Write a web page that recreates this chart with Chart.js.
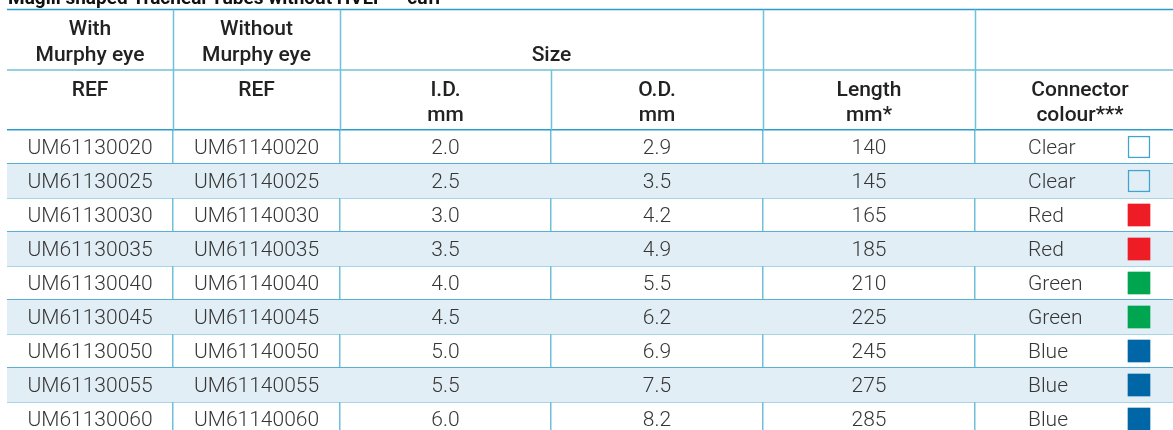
<!DOCTYPE html>
<html>
<head>
<meta charset="utf-8">
<script src="https://cdn.jsdelivr.net/npm/chart.js@4/dist/chart.umd.min.js"></script>
<style>
  html, body { margin: 0; padding: 0; background: #fff; overflow: hidden; }
  #tubes-chart { display: block; }
</style>
</head>
<body>
<canvas id="tubes-chart" width="1173" height="436"></canvas>
<script>
// table data
const tableTitle = 'Magill shaped Tracheal Tubes without HVLP** cuff';
const refWithEye = ['UM61130020', 'UM61130025', 'UM61130030', 'UM61130035', 'UM61130040',
                    'UM61130045', 'UM61130050', 'UM61130055', 'UM61130060'];
const refWithoutEye = ['UM61140020', 'UM61140025', 'UM61140030', 'UM61140035', 'UM61140040',
                       'UM61140045', 'UM61140050', 'UM61140055', 'UM61140060'];
const innerDiameter = [2.0, 2.5, 3.0, 3.5, 4.0, 4.5, 5.0, 5.5, 6.0];
const outerDiameter = [2.9, 3.5, 4.2, 4.9, 5.5, 6.2, 6.9, 7.5, 8.2];
const tubeLength = [140, 145, 165, 185, 210, 225, 245, 275, 285];
const connectorName = ['Clear', 'Clear', 'Red', 'Red', 'Green', 'Green', 'Blue', 'Blue', 'Blue'];
const connectorColour = {
    'Clear': null,
    'Red':   '#ee1d25',
    'Green': '#00a550',
    'Blue':  '#0066a6'
};

// layout (x in table pixels)
const tableLeft = 7, tableRight = 1173;
const colEdges = [173, 340, 551, 763, 975];
const colCenter = [90, 256.5, 445.5, 657, 869];
const connectorTextX = 1028;
const swatchSpan = [1128, 1150];
const headerTop = 130;

const lineDark = '#2b9bc9';
const lineLight = '#6fc0da';
const rowShade = '#e2eef5';
const textColour = '#363636';
const headFont = '500 21px Roboto, "Liberation Sans", sans-serif';
const bodyFont = '300 21px Roboto, "Liberation Sans", sans-serif';

const tablePlugin = {
    id: 'tableText',
    afterDraw(chart) {
        const ctx = chart.ctx;
        const x = chart.scales.x;
        const y = chart.scales.y;
        const px = v => x.getPixelForValue(v);

        ctx.save();
        // title, mostly cut off at the top
        ctx.fillStyle = '#111';
        ctx.font = 'bold 19px Roboto, "Liberation Sans", sans-serif';
        ctx.textAlign = 'left';
        ctx.textBaseline = 'alphabetic';
        ctx.fillText(tableTitle, 8, 4);

        // header rules
        const hline = (yy, colour) => {
            ctx.strokeStyle = colour;
            ctx.lineWidth = 1.5;
            ctx.beginPath();
            ctx.moveTo(px(tableLeft), yy);
            ctx.lineTo(px(tableRight), yy);
            ctx.stroke();
        };
        hline(9.5, lineDark);
        hline(70, lineLight);

        const vline = (xv, y0, y1) => {
            ctx.strokeStyle = lineLight;
            ctx.lineWidth = 1.5;
            ctx.beginPath();
            ctx.moveTo(Math.round(px(xv)) + 0.5, y0);
            ctx.lineTo(Math.round(px(xv)) + 0.5, y1);
            ctx.stroke();
        };
        [colEdges[0], colEdges[1], colEdges[3], colEdges[4]].forEach(e => vline(e, 9.5, headerTop));
        vline(colEdges[2], 70, headerTop);

        // header text
        ctx.fillStyle = '#222';
        ctx.font = headFont;
        ctx.textAlign = 'center';
        const head = (txt, xv, yy) => ctx.fillText(txt, px(xv), yy);
        head('With', colCenter[0], 35);
        head('Murphy eye', colCenter[0], 61);
        head('Without', colCenter[1], 35);
        head('Murphy eye', colCenter[1], 61);
        head('Size', (colEdges[1] + colEdges[3]) / 2, 61);
        head('REF', colCenter[0], 96);
        head('REF', colCenter[1], 96);
        head('I.D.', colCenter[2], 96);
        head('mm', colCenter[2], 121);
        head('O.D.', colCenter[3], 96);
        head('mm', colCenter[3], 121);
        head('Length', colCenter[4], 96);
        head('mm*', colCenter[4], 121);
        head('Connector', 1080, 96);
        head('colour***', 1080, 121);

        // body text
        ctx.fillStyle = textColour;
        ctx.font = bodyFont;
        ctx.textBaseline = 'middle';
        refWithEye.forEach((ref, i) => {
            const yy = y.getPixelForValue(i) + 1.5;
            ctx.textAlign = 'center';
            ctx.fillText(ref, px(colCenter[0]), yy);
            ctx.fillText(refWithoutEye[i], px(colCenter[1]), yy);
            ctx.fillText(innerDiameter[i].toFixed(1), px(colCenter[2]), yy);
            ctx.fillText(outerDiameter[i].toFixed(1), px(colCenter[3]), yy);
            ctx.fillText(String(tubeLength[i]), px(colCenter[4]), yy);
            ctx.textAlign = 'left';
            ctx.fillText(connectorName[i], px(connectorTextX), yy);
        });
        ctx.restore();
    }
};

const ctx = document.getElementById('tubes-chart').getContext('2d');
new Chart(ctx, {
    type: 'bar',
    data: {
        labels: refWithEye,
        datasets: [
            {
                // colour swatches
                data: connectorName.map(() => swatchSpan),
                grouped: false,
                barThickness: 22,
                borderSkipped: false,
                backgroundColor: c => connectorColour[connectorName[c.dataIndex]] || (c.dataIndex % 2 ? rowShade : '#ffffff'),
                borderColor: c => connectorColour[connectorName[c.dataIndex]] ? 'rgba(0,0,0,0)' : '#3fa5d0',
                borderWidth: c => connectorColour[connectorName[c.dataIndex]] ? 0 : 1.5,
                order: 1
            },
            {
                // alternating row shading
                data: refWithEye.map((_, i) => i % 2 ? [tableLeft, tableRight] : null),
                grouped: false,
                barPercentage: 1,
                categoryPercentage: 1,
                backgroundColor: rowShade,
                borderWidth: 0,
                order: 2
            }
        ]
    },
    options: {
        indexAxis: 'y',
        responsive: false,
        animation: false,
        devicePixelRatio: 1,
        layout: { padding: { top: headerTop, left: tableLeft, right: 0, bottom: 0 } },
        plugins: {
            legend: { display: false },
            tooltip: { enabled: false },
            title: { display: false }
        },
        scales: {
            x: {
                type: 'linear',
                min: tableLeft,
                max: tableRight,
                z: 1,
                afterBuildTicks: axis => { axis.ticks = colEdges.map(v => ({ value: v })); },
                ticks: { display: false },
                grid: { color: lineLight, lineWidth: 1.5, drawTicks: false },
                border: { display: false }
            },
            y: {
                z: 1,
                ticks: { display: false },
                grid: { color: lineDark, lineWidth: 1.5, drawTicks: false },
                border: { display: false }
            }
        }
    },
    plugins: [tablePlugin]
});
</script>
</body>
</html>
